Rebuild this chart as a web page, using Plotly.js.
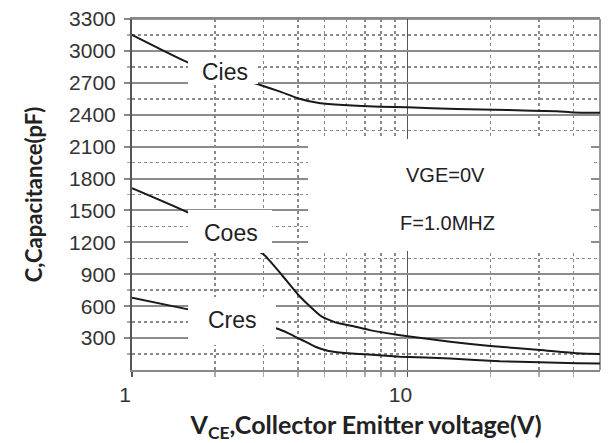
<!DOCTYPE html>
<html>
<head>
<meta charset="utf-8">
<script src="https://cdn.plot.ly/plotly-3.0.1.min.js"></script>
<style>html,body{margin:0;padding:0;background:#fff;}#chart{width:611px;height:443px;}</style>
</head>
<body>
<div id="chart"></div>
<script>
// Collector-emitter voltage (V) and capacitances (pF)
var ciesX = [1, 1.6, 2.92, 3.45, 4.02, 4.83, 5.85, 7.97, 10, 15.1, 23, 34.9, 40, 50];
var ciesY = [3150, 2890, 2680, 2617, 2553, 2507, 2491, 2476, 2470, 2454, 2444, 2432, 2422, 2418];

var coesX = [1, 1.6, 3.0, 3.5, 4.02, 4.44, 4.89, 5.47, 6.46, 7.3, 9.15, 10, 14.3, 20, 30.3, 41.2, 50];
var coesY = [1710, 1480, 1088, 893, 705, 595, 501, 448, 407, 375, 332, 318, 266, 226, 188, 157, 150];

var cresX = [1, 1.6, 3.33, 3.70, 4.14, 4.63, 5.17, 5.78, 7.02, 9.41, 14.3, 21.7, 30, 41.2, 50];
var cresY = [680, 570, 392, 345, 282, 219, 179, 163, 147, 125, 108, 82, 72, 63, 62];

var yTickVals = [300, 600, 900, 1200, 1500, 1800, 2100, 2400, 2700, 3000, 3300];
var yMinorVals = [150, 450, 750, 1050, 1350, 1650, 1950, 2250, 2550, 2850, 3150];
var xTickVals = [1, 10];
var xTickText = ['1', '10'];
var xMinorVals = [2, 3, 4, 5, 6, 7, 8, 9, 20, 30, 40];

var seriesNames = ['Cies', 'Coes', 'Cres'];
var noteTexts = ['VGE=0V', 'F=1.0MHZ'];

var lineStyle = {color: '#1a1a1a', width: 2, shape: 'spline', smoothing: 0.4};
var traces = [
  {x: ciesX, y: ciesY, name: seriesNames[0], mode: 'lines', line: lineStyle},
  {x: coesX, y: coesY, name: seriesNames[1], mode: 'lines', line: lineStyle},
  {x: cresX, y: cresY, name: seriesNames[2], mode: 'lines', line: lineStyle}
];

function box(x0, x1, y0, y1) {
  return {type: 'rect', xref: 'paper', yref: 'paper', x0: x0, x1: x1, y0: y0, y1: y1,
          fillcolor: '#ffffff', line: {width: 0}, layer: 'above'};
}
function label(txt, x, y, size) {
  return {text: txt, xref: 'paper', yref: 'paper', x: x, y: y, showarrow: false,
          xanchor: 'center', yanchor: 'middle',
          font: {family: 'Liberation Sans, Arial, sans-serif', size: size, color: '#222'}};
}

var layout = {
  width: 611, height: 443,
  margin: {l: 132, r: 11, t: 19, b: 73},
  paper_bgcolor: '#ffffff', plot_bgcolor: '#ffffff',
  showlegend: false,
  xaxis: {
    type: 'log', range: [0, Math.log10(50)],
    tickvals: xTickVals, ticktext: xTickText,
    ticks: 'outside', ticklen: 5, tickcolor: '#555', tickwidth: 1.5,
    ticklabelshift: -7,
    showgrid: true, gridcolor: '#555', gridwidth: 1.5,
    showline: true, linecolor: '#888', linewidth: 2, mirror: true,
    zeroline: false,
    tickfont: {family: 'Liberation Sans, Arial, sans-serif', size: 21, color: '#333'},
    minor: {tickmode: 'array', tickvals: xMinorVals, showgrid: true, gridcolor: '#888',
            gridwidth: 1.5, griddash: 'dot', ticks: 'outside', ticklen: 5, tickcolor: '#aaa', tickwidth: 1.5},
    title: {text: '<b>V<sub>CE</sub>,Collector Emitter voltage(V)</b>',
            font: {family: 'Lato, sans-serif', size: 25, color: '#222'}, standoff: 14}
  },
  yaxis: {
    range: [0, 3300],
    tickvals: yTickVals,
    ticks: 'outside', ticklen: 6, tickcolor: '#888', tickwidth: 2,
    ticklabelstandoff: 4,
    showgrid: true, gridcolor: '#8c8c8c', gridwidth: 2,
    showline: true, linecolor: '#555', linewidth: 2, mirror: false,
    zeroline: false,
    tickfont: {family: 'Liberation Sans, Arial, sans-serif', size: 21, color: '#333'},
    minor: {tickmode: 'array', tickvals: yMinorVals, showgrid: true, gridcolor: '#888',
            gridwidth: 1.5, griddash: 'dot', ticks: 'outside', ticklen: 3, tickcolor: '#aaa', tickwidth: 1.5},
    title: {text: '<b>C,Capacitance(pF)</b>',
            font: {family: 'Lato, sans-serif', size: 22, color: '#222'}, standoff: 20}
  },
  shapes: [
    {type: 'line', xref: 'paper', yref: 'paper', x0: 0, x1: 1, y0: 1, y1: 1, line: {color: '#999', width: 2}, layer: 'below'},
    {type: 'line', xref: 'paper', yref: 'paper', x0: 1, x1: 1, y0: 0, y1: 1, line: {color: '#999', width: 2}, layer: 'below'},
    box(0.1197, 0.2692, 0.8148, 0.8832),
    box(0.1197, 0.2991, 0.3333, 0.4558),
    box(0.1197, 0.3077, 0.0712, 0.2080),
    box(0.3761, 0.9808, 0.3390, 0.6581)
  ],
  annotations: [
    label(seriesNames[0], 0.1987, 0.849, 23),
    label(seriesNames[1], 0.2126, 0.3903, 23),
    label(seriesNames[2], 0.2137, 0.1425, 23),
    label(noteTexts[0], 0.6709, 0.5556, 20),
    label(noteTexts[1], 0.6731, 0.4188, 20)
  ]
};

Plotly.newPlot('chart', traces, layout, {displayModeBar: false, staticPlot: true});
</script>
</body>
</html>
